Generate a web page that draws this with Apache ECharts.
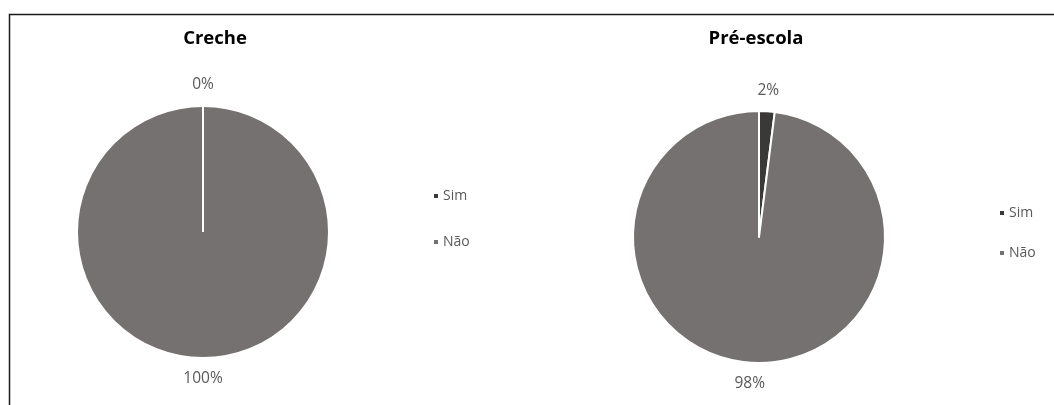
<!DOCTYPE html>
<html>
<head>
<meta charset="utf-8">
<script src="https://cdn.jsdelivr.net/npm/echarts@6/dist/echarts.min.js"></script>
<style>
  html, body { margin: 0; padding: 0; background: #fff; }
  #chart { width: 1054px; height: 405px; }
</style>
</head>
<body>
<div id="chart"></div>
<script>
// Respostas por etapa de ensino
const categories = ['Sim', 'Não'];
const crecheValues = [0, 100];
const preEscolaValues = [2, 98];
const titles = ['Creche', 'Pré-escola'];
const colors = ['#3b3838', '#767171'];

const textColor = '#595959';
const radius = 126;
const crecheCenter = [203, 232];
const preCenter = [759, 237];

function pieSeries(name, values, center) {
  return {
    name: name,
    type: 'pie',
    center: center,
    radius: radius,
    startAngle: 90,
    clockwise: true,
    avoidLabelOverlap: false,
    silent: true,
    itemStyle: { borderColor: '#ffffff', borderWidth: 2 },
    label: {
      show: true,
      position: 'outside',
      formatter: '{d}%',
      color: textColor,
      fontSize: 15.5,
      fontFamily: 'Open Sans',
      distanceToLabelLine: 0
    },
    labelLine: { show: false, length: 21, length2: 0 },
    labelLayout: function () {
      return { align: 'center', verticalAlign: 'middle' };
    },
    data: categories.map((c, i) => ({
      name: c,
      value: values[i],
      itemStyle: { color: colors[i] }
    }))
  };
}

const titleStyle = { fontSize: 18.5, fontWeight: 'bold', color: '#000', fontFamily: 'Open Sans' };
const legendText = { color: textColor, fontSize: 14, fontFamily: 'Open Sans', padding: [0, 0, 0, -1] };

const chart = echarts.init(document.getElementById('chart'));
chart.setOption({
  animation: false,
  color: colors,
  title: [
    { text: titles[0], left: 210, top: 24, textAlign: 'center', textStyle: titleStyle },
    { text: titles[1], left: 751, top: 24, textAlign: 'center', textStyle: titleStyle }
  ],
  legend: [
    { data: categories, orient: 'vertical', left: 427, top: 184, itemWidth: 6, itemHeight: 6,
      itemGap: 32, icon: 'rect', selectedMode: false, textStyle: legendText },
    { data: categories, orient: 'vertical', left: 993, top: 201, itemWidth: 6, itemHeight: 6,
      itemGap: 26, icon: 'rect', selectedMode: false, textStyle: legendText }
  ],
  graphic: [
    { type: 'rect', shape: { x: 9.5, y: 14.5, width: 1060, height: 400 },
      style: { fill: 'none', stroke: '#1a1a1a', lineWidth: 1.5 }, silent: true },
    // radial edge of the empty "Sim" slice in Creche
    { type: 'line', z: 10, silent: true,
      shape: { x1: crecheCenter[0], y1: crecheCenter[1], x2: crecheCenter[0], y2: crecheCenter[1] - radius },
      style: { stroke: '#ffffff', lineWidth: 2 } }
  ],
  series: [
    pieSeries(titles[0], crecheValues, crecheCenter),
    pieSeries(titles[1], preEscolaValues, preCenter)
  ]
});
</script>
</body>
</html>
